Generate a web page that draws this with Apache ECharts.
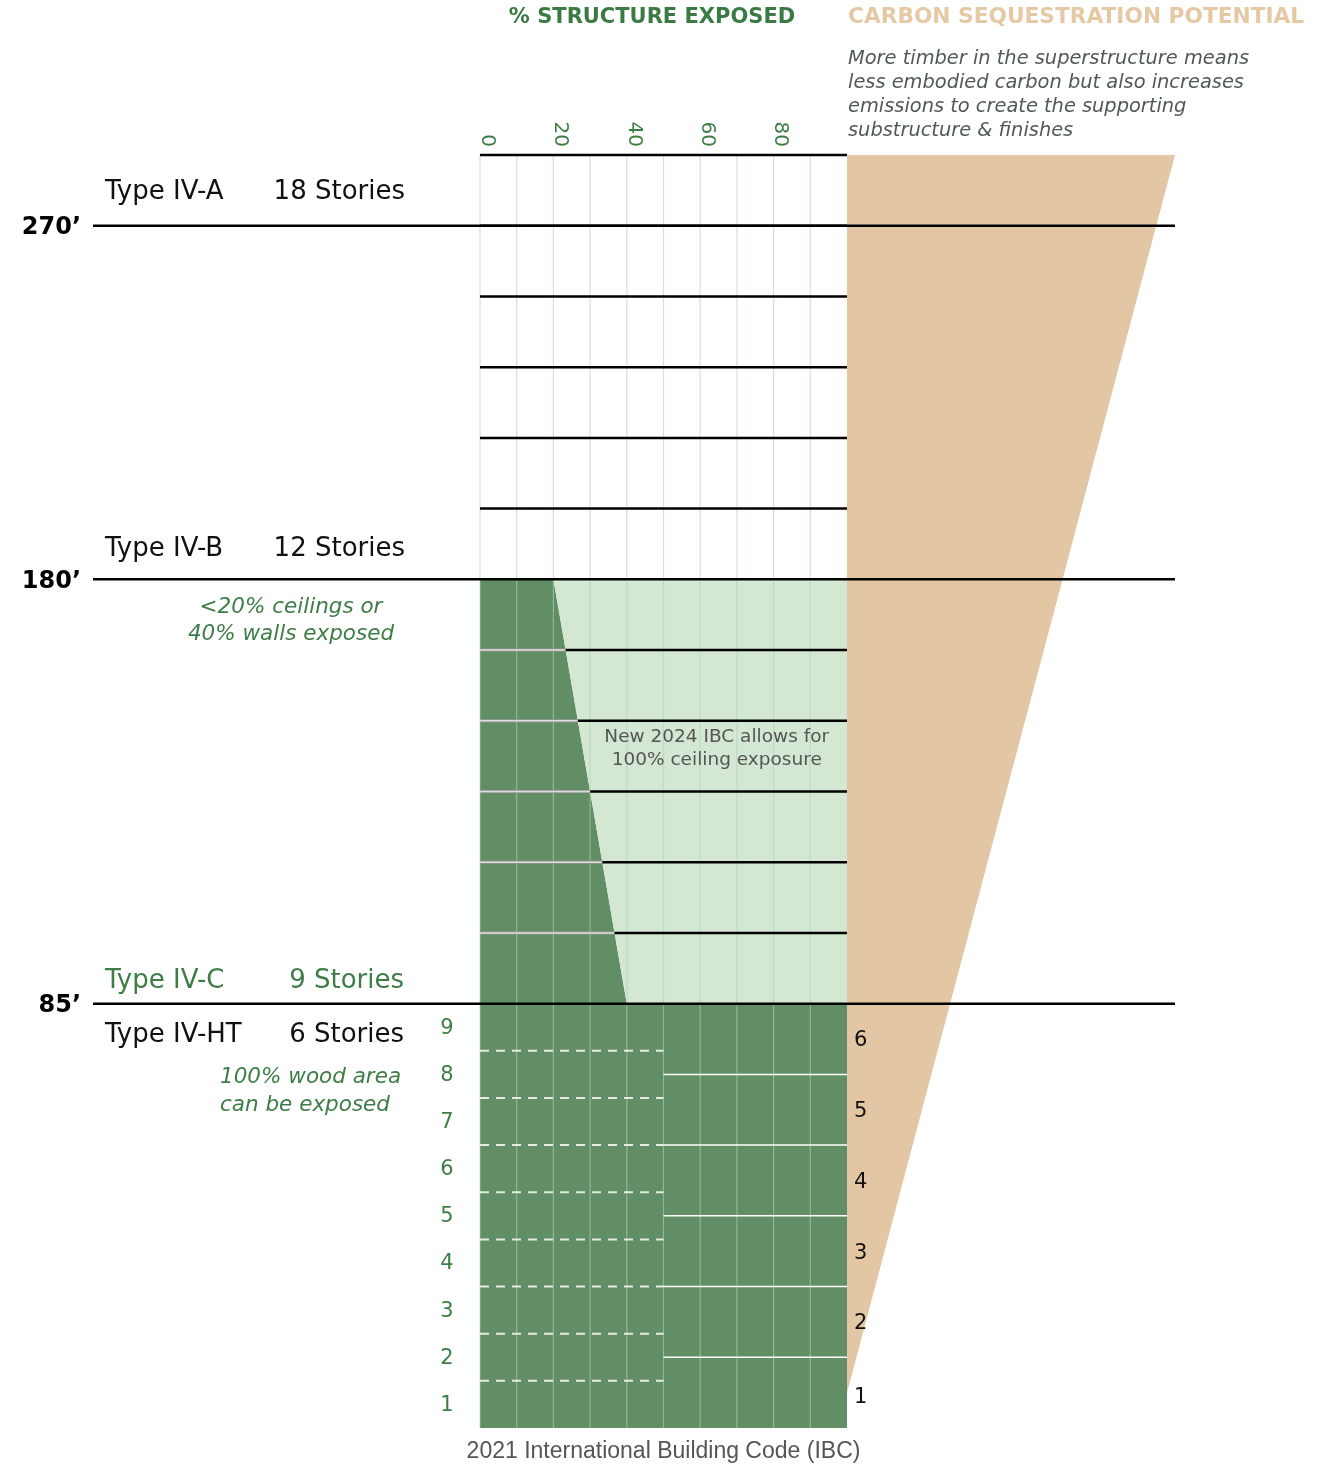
<!DOCTYPE html>
<html>
<head>
<meta charset="utf-8">
<script src="https://cdn.jsdelivr.net/npm/echarts@6/dist/echarts.min.js"></script>
<style>
  html, body { margin: 0; padding: 0; background: #fff; }
  #chart { width: 1333px; height: 1465px; }
</style>
</head>
<body>
<div id="chart"></div>
<script>
// levels are measured in story units of the 18-story building (bottom = 0, top = 18)
const codeTypes = ['Type IV-A', 'Type IV-B', 'Type IV-C', 'Type IV-HT']
const storyCounts = [18, 12, 9, 6]
const heightLevels = [17, 12, 6]
const heightLabels = ['270’', '180’', '85’']
// % of structure that can be exposed at the top / bottom of the Type IV-B band
const ceilingLimit = [[12, 20], [6, 40]]
// carbon potential wedge: [level, relative width]
const carbonWedge = [[0.5, 0], [18, 100]]
const ivcNumbers = [1, 2, 3, 4, 5, 6, 7, 8, 9]
const ivhtNumbers = [1, 2, 3, 4, 5, 6]

const GREEN_DARK = '#628e65'
const GREEN_LIGHT = '#d3e7d3'
const TAN = '#e3c6a3'
const TEXT_GREEN = '#3e7d46'
const FONT = 'DejaVu Sans'

const chart = echarts.init(document.getElementById('chart'), null, { renderer: 'canvas' })

// x of the sloped limit at a given level
const slantAt = (lvl) => {
  const [[l1, x1], [l2, x2]] = ceilingLimit
  return x1 + (lvl - l1) * (x2 - x1) / (l2 - l1)
}

const TOP_LEVEL = 18
const ivcStory = 6 / storyCounts[2]   // IV-C stories squeezed under 85'

const seg = (api, a, b, style) => {
  const p1 = api.coord(a), p2 = api.coord(b)
  return { type: 'line', shape: { x1: p1[0], y1: p1[1], x2: p2[0], y2: p2[1] }, style }
}

const mainRender = (params, api) => {
  const children = []
  const poly = (pts, fill) => ({ type: 'polygon', shape: { points: pts.map(p => api.coord(p)) }, style: { fill } })
  const lowTop = heightLevels[2], midTop = heightLevels[1]
  // fills
  children.push(poly([[0, 0], [100, 0], [100, lowTop], [slantAt(lowTop), lowTop], [slantAt(midTop), midTop], [0, midTop]], GREEN_DARK))
  children.push(poly([[slantAt(lowTop), lowTop], [100, lowTop], [100, midTop], [slantAt(midTop), midTop]], GREEN_LIGHT))
  // vertical grid lines
  for (let x = 0; x <= 90; x += 10) {
    children.push(seg(api, [x, 0], [x, TOP_LEVEL], { stroke: 'rgba(175,212,178,0.6)', lineWidth: 1.2 }))
  }
  // IV-C story lines (dashed, left half)
  for (let k = 1; k < storyCounts[2]; k++) {
    children.push(seg(api, [0, k * ivcStory], [50, k * ivcStory], { stroke: '#e4ece4', lineWidth: 2, lineDash: [9, 7] }))
  }
  // IV-HT story lines (solid, right half)
  for (let k = 1; k < storyCounts[3]; k++) {
    children.push(seg(api, [50, k], [100, k], { stroke: '#ffffff', lineWidth: 1.5 }))
  }
  // IV-B story lines
  for (let l = lowTop + 1; l < midTop; l++) {
    const s = slantAt(l)
    children.push(seg(api, [0, l], [s, l], { stroke: '#9a9a9a', lineWidth: 3 }))
    children.push(seg(api, [0, l], [s, l], { stroke: '#dcdcdc', lineWidth: 1.4 }))
    children.push(seg(api, [s, l], [100, l], { stroke: '#000', lineWidth: 2.5 }))
  }
  // IV-A story lines
  for (let l = midTop + 1; l <= TOP_LEVEL; l++) {
    children.push(seg(api, [0, l], [100, l], { stroke: '#000', lineWidth: 2.5 }))
  }
  // story numbers
  ivcNumbers.forEach(n => {
    const p = api.coord([0, (n - 0.5) * ivcStory])
    children.push({ type: 'text', x: p[0] - 33, y: p[1] + 1, style: { text: String(n), fill: TEXT_GREEN, font: `21px "${FONT}"`, align: 'center', verticalAlign: 'middle' } })
  })
  ivhtNumbers.forEach(n => {
    const p = api.coord([100, n - 0.5])
    children.push({ type: 'text', x: p[0] + 7, y: p[1] + (n === 1 ? 5 : 2), style: { text: String(n), fill: '#111', font: `21px "${FONT}"`, align: 'left', verticalAlign: 'middle' } })
  })
  // note in the light green area
  const tp = api.coord([64.5, 9.6])
  children.push({ type: 'text', x: tp[0], y: tp[1], style: { text: 'New 2024 IBC allows for\n100% ceiling exposure', fill: '#555', font: `18.5px "${FONT}"`, lineHeight: 23, align: 'center', verticalAlign: 'middle' } })
  return { type: 'group', children }
}

const wedgeRender = (params, api) => {
  const [[l0, w0], [l1, w1]] = carbonWedge
  const pts = [[0, l0], [0, l1], [w1, l1], [w0, l0]].map(p => api.coord(p))
  return { type: 'polygon', shape: { points: pts }, style: { fill: TAN } }
}

const heightRender = (params, api) => {
  const children = []
  heightLevels.forEach((lvl, i) => {
    children.push(seg(api, [0, lvl], [1, lvl], { stroke: '#000', lineWidth: 2.5 }))
    const p = api.coord([0, lvl])
    children.push({ type: 'text', x: p[0] - 12, y: p[1] + 2, style: { text: heightLabels[i], fill: '#000', font: `bold 24px "${FONT}"`, align: 'right', verticalAlign: 'middle' } })
  })
  return { type: 'group', children }
}

const txt = (text, x, y, opt = {}) => ({
  type: 'text', x, y, z: 100,
  style: Object.assign({ text, fill: '#111', font: `26px "${FONT}"`, align: 'left', verticalAlign: 'middle' }, opt)
})

const gridBase = { top: 155, height: 1273, outerBoundsMode: 'none', containLabel: false }

const option = {
  animation: false,
  grid: [
    Object.assign({ left: 480, width: 367 }, gridBase),
    Object.assign({ left: 847, width: 328 }, gridBase),
    Object.assign({ left: 93, width: 1082 }, gridBase)
  ],
  xAxis: [
    {
      gridIndex: 0, type: 'value', position: 'top', min: 0, max: 100, interval: 10,
      axisLine: { show: false }, axisTick: { show: false }, splitLine: { show: false },
      axisLabel: {
        rotate: -90, margin: 8, color: TEXT_GREEN, fontSize: 20, fontFamily: FONT,
        verticalAlign: 'bottom', lineHeight: 14,
        formatter: v => (v % 20 === 0 && v < 100 ? String(v) : '')
      }
    },
    {
      gridIndex: 0, type: 'value', position: 'bottom', min: 0, max: 100,
      axisLine: { show: false }, axisTick: { show: false }, splitLine: { show: false }, axisLabel: { show: false },
      name: '2021 International Building Code (IBC)', nameLocation: 'middle', nameGap: 12,
      nameTextStyle: { color: '#555', fontSize: 23, fontFamily: 'Liberation Sans' }
    },
    { gridIndex: 1, type: 'value', min: 0, max: 100, show: false },
    { gridIndex: 2, type: 'value', min: 0, max: 1, show: false }
  ],
  yAxis: [
    { gridIndex: 0, type: 'value', min: 0, max: TOP_LEVEL, show: false },
    { gridIndex: 1, type: 'value', min: 0, max: TOP_LEVEL, show: false },
    { gridIndex: 2, type: 'value', min: 0, max: TOP_LEVEL, show: false }
  ],
  series: [
    { type: 'custom', xAxisIndex: 2, yAxisIndex: 1, data: [[0, 0]], renderItem: wedgeRender, silent: true, z: 1 },
    { type: 'custom', xAxisIndex: 0, yAxisIndex: 0, data: [[0, 0]], renderItem: mainRender, silent: true, z: 2 },
    { type: 'custom', xAxisIndex: 3, yAxisIndex: 2, data: [[0, 0]], renderItem: heightRender, silent: true, z: 5 }
  ],
  graphic: [
    txt('% STRUCTURE EXPOSED', 652, 18, { fill: '#3a7a43', font: `bold 21px "${FONT}"`, align: 'center' }),
    txt('CARBON SEQUESTRATION POTENTIAL', 848, 17, { fill: '#e5c9a5', font: `bold 21.7px "${FONT}"` }),
    txt('More timber in the superstructure means\nless embodied carbon but also increases\nemissions to create the supporting\nsubstructure & finishes', 848, 95,
      { fill: '#4f5a52', font: `italic 19.4px "${FONT}"`, lineHeight: 24 }),
    txt(codeTypes[0], 105, 192), txt(storyCounts[0] + ' Stories', 405, 192, { align: 'right' }),
    txt(codeTypes[1], 105, 549), txt(storyCounts[1] + ' Stories', 405, 549, { align: 'right' }),
    txt(codeTypes[2], 105, 981, { fill: TEXT_GREEN }), txt(storyCounts[2] + ' Stories', 404, 981, { align: 'right', fill: TEXT_GREEN }),
    txt(codeTypes[3], 105, 1035), txt(storyCounts[3] + ' Stories', 404, 1035, { align: 'right' }),
    txt('<20% ceilings or\n40% walls exposed', 291, 621, { fill: TEXT_GREEN, font: `italic 21.5px "${FONT}"`, lineHeight: 27, align: 'center' }),
    txt('100% wood area\ncan be exposed', 220, 1091, { fill: TEXT_GREEN, font: `italic 21.5px "${FONT}"`, lineHeight: 28 })
  ]
}

chart.setOption(option)
</script>
</body>
</html>
